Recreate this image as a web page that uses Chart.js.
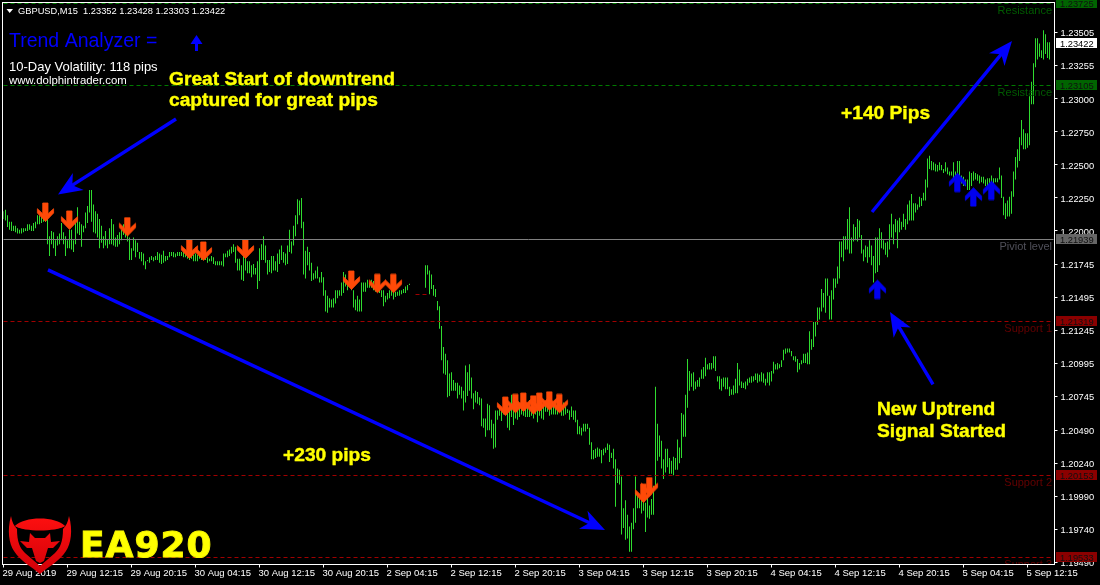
<!DOCTYPE html>
<html>
<head>
<meta charset="utf-8">
<title>GBPUSD,M15</title>
<style>
  html, body { margin: 0; padding: 0; background: #000; }
  canvas { display: block; }
</style>
<script src="https://cdn.jsdelivr.net/npm/chart.js@4"></script>
</head>
<body>
<canvas id="priceChart" width="1100" height="585"></canvas>
<script>
const highs = [
  1.2215,1.2216,1.2212,1.2207,1.2207,1.2204,1.2204,1.2202,1.2201,1.2202,
  1.2202,1.2202,1.2205,1.2205,1.2204,1.2206,1.2207,1.2212,1.2212,1.2211,
  1.2215,1.2215,1.2214,1.2196,1.2200,1.2199,1.2193,1.2196,1.2198,1.2206,
  1.2199,1.2196,1.2193,1.2201,1.2201,1.2193,1.2206,1.2218,1.2207,1.2205,
  1.2204,1.2214,1.2219,1.2231,1.2231,1.2220,1.2215,1.2213,1.2209,1.2204,
  1.2196,1.2200,1.2194,1.2202,1.2209,1.2205,1.2195,1.2197,1.2199,1.2201,
  1.2205,1.2205,1.2197,1.2195,1.2187,1.2195,1.2193,1.2191,1.2184,1.2184,
  1.2183,1.2177,1.2178,1.2180,1.2181,1.2180,1.2181,1.2184,1.2183,1.2182,
  1.2185,1.2181,1.2181,1.2184,1.2184,1.2184,1.2183,1.2184,1.2184,1.2184,
  1.2184,1.2183,1.2183,1.2182,1.2182,1.2182,1.2183,1.2182,1.2182,1.2181,
  1.2182,1.2182,1.2180,1.2179,1.2181,1.2180,1.2177,1.2177,1.2177,1.2177,
  1.2183,1.2183,1.2185,1.2186,1.2188,1.2190,1.2188,1.2179,1.2179,1.2174,
  1.2181,1.2181,1.2177,1.2177,1.2174,1.2175,1.2172,1.2177,1.2187,1.2190,
  1.2196,1.2189,1.2178,1.2178,1.2181,1.2181,1.2177,1.2183,1.2186,1.2189,
  1.2184,1.2183,1.2189,1.2201,1.2192,1.2204,1.2212,1.2224,1.2223,1.2225,
  1.2207,1.2185,1.2188,1.2184,1.2176,1.2168,1.2170,1.2173,1.2165,1.2169,
  1.2165,1.2155,1.2151,1.2149,1.2148,1.2149,1.2155,1.2155,1.2155,1.2161,
  1.2169,1.2167,1.2162,1.2164,1.2167,1.2155,1.2148,1.2151,1.2148,1.2161,
  1.2161,1.2161,1.2163,1.2161,1.2163,1.2162,1.2162,1.2161,1.2161,1.2155,
  1.2155,1.2151,1.2153,1.2155,1.2156,1.2159,1.2154,1.2154,1.2155,1.2155,
  1.2156,1.2158,1.2159,1.2160,null,null,null,null,null,null,
  null,1.2174,1.2174,1.2170,1.2167,1.2159,1.2156,1.2147,1.2143,1.2128,
  1.2112,1.2107,1.2102,1.2092,1.2093,1.2087,1.2085,1.2085,1.2083,1.2082,
  1.2079,1.2098,1.2093,1.2099,1.2089,1.2077,1.2079,1.2078,1.2074,1.2073,
  1.2058,1.2058,1.2069,1.2068,1.2057,1.2054,1.2064,1.2064,1.2067,1.2064,
  1.2073,1.2072,1.2066,1.2067,1.2076,1.2076,1.2072,1.2068,1.2067,1.2068,
  1.2068,1.2069,1.2069,1.2072,1.2072,1.2072,1.2069,1.2070,1.2072,1.2070,
  1.2068,1.2068,1.2071,1.2068,1.2072,1.2070,1.2070,1.2070,1.2068,1.2070,
  1.2070,1.2067,1.2065,1.2064,1.2067,1.2064,1.2064,1.2057,1.2052,1.2051,
  1.2054,1.2054,1.2054,1.2051,1.2040,1.2034,1.2035,1.2036,1.2035,1.2034,
  1.2035,1.2036,1.2039,1.2038,1.2032,1.2035,1.2027,1.2020,1.2019,1.2014,
  1.1990,1.1996,1.1985,1.1976,1.1979,1.1990,1.2014,1.2001,1.2000,1.1998,
  1.1997,1.1994,1.1998,1.1992,1.1997,1.2007,1.2082,1.2054,1.2045,1.2041,
  1.2027,1.2035,1.2035,1.2028,1.2026,1.2029,1.2028,1.2042,1.2036,1.2062,
  1.2061,1.2076,1.2103,1.2094,1.2092,1.2093,1.2086,1.2087,1.2089,1.2095,
  1.2097,1.2104,1.2099,1.2100,1.2100,1.2105,1.2105,1.2090,1.2090,1.2088,
  1.2089,1.2089,1.2089,1.2082,1.2080,1.2083,1.2088,1.2100,1.2095,1.2086,
  1.2085,1.2086,1.2088,1.2089,1.2090,1.2090,1.2092,1.2092,1.2091,1.2093,
  1.2092,1.2088,1.2093,1.2093,1.2094,1.2101,1.2099,1.2100,1.2099,1.2102,
  1.2110,1.2111,1.2111,1.2111,1.2109,1.2105,1.2105,1.2103,1.2100,1.2102,
  1.2107,1.2107,1.2108,1.2124,1.2118,1.2131,1.2131,1.2142,1.2142,1.2156,
  1.2153,1.2164,1.2164,1.2151,1.2155,1.2164,1.2164,1.2173,1.2192,1.2192,
  1.2196,1.2196,1.2209,1.2218,1.2195,1.2205,1.2203,1.2209,1.2208,1.2197,
  1.2186,1.2189,1.2188,1.2193,1.2189,1.2181,1.2195,1.2195,1.2202,1.2199,
  1.2193,1.2191,1.2192,1.2205,1.2213,1.2205,1.2209,1.2208,1.2210,1.2207,
  1.2213,1.2209,1.2220,1.2223,1.2228,1.2221,1.2221,1.2220,1.2226,1.2225,
  1.2229,1.2239,1.2255,1.2257,1.2253,1.2252,1.2251,1.2250,1.2252,1.2250,
  1.2247,1.2252,1.2248,1.2245,1.2245,1.2252,1.2245,1.2253,1.2253,1.2242,
  1.2241,1.2239,1.2239,1.2245,1.2244,1.2245,1.2244,1.2243,1.2242,1.2241,
  1.2241,1.2239,1.2240,1.2240,1.2242,1.2240,1.2240,1.2240,1.2248,1.2242,
  1.2226,1.2221,1.2223,1.2226,1.2230,1.2245,1.2256,1.2262,1.2271,1.2284,
  1.2277,1.2274,1.2274,1.2302,1.2313,1.2327,1.2346,1.2346,1.2342,1.2337,
  1.2352,1.2349,1.2343,1.2343
];

const lows = [
  1.2209,1.2208,1.2203,1.2201,1.2200,1.2200,1.2199,1.2198,1.2198,1.2198,
  1.2199,1.2200,1.2200,1.2201,1.2200,1.2200,1.2202,1.2205,1.2205,1.2206,
  1.2207,1.2207,1.2190,1.2181,1.2190,1.2187,1.2181,1.2189,1.2190,1.2193,
  1.2190,1.2181,1.2187,1.2187,1.2186,1.2184,1.2190,1.2198,1.2197,1.2188,
  1.2199,1.2202,1.2206,1.2214,1.2207,1.2199,1.2198,1.2195,1.2187,1.2191,
  1.2187,1.2189,1.2187,1.2190,1.2190,1.2189,1.2188,1.2188,1.2190,1.2193,
  1.2197,1.2195,1.2192,1.2178,1.2178,1.2185,1.2180,1.2184,1.2179,1.2177,
  1.2174,1.2171,1.2177,1.2176,1.2178,1.2177,1.2178,1.2178,1.2176,1.2175,
  1.2176,1.2177,1.2178,1.2180,1.2181,1.2180,1.2180,1.2181,1.2181,1.2181,
  1.2180,1.2180,1.2179,1.2178,1.2179,1.2177,1.2177,1.2177,1.2179,1.2178,
  1.2179,1.2178,1.2176,1.2177,1.2177,1.2175,1.2174,1.2174,1.2174,1.2174,
  1.2173,1.2180,1.2180,1.2181,1.2183,1.2184,1.2176,1.2170,1.2170,1.2163,
  1.2162,1.2170,1.2168,1.2168,1.2165,1.2167,1.2167,1.2156,1.2162,1.2178,
  1.2178,1.2176,1.2167,1.2169,1.2168,1.2170,1.2170,1.2169,1.2175,1.2178,
  1.2176,1.2174,1.2175,1.2184,1.2183,1.2189,1.2196,1.2205,1.2212,1.2202,
  1.2167,1.2164,1.2174,1.2170,1.2162,1.2163,1.2164,1.2164,1.2161,1.2161,
  1.2151,1.2139,1.2138,1.2142,1.2142,1.2142,1.2145,1.2149,1.2151,1.2151,
  1.2153,1.2158,1.2155,1.2158,1.2155,1.2142,1.2140,1.2139,1.2139,1.2139,
  1.2154,1.2154,1.2157,1.2157,1.2157,1.2155,1.2154,1.2154,1.2153,1.2150,
  1.2143,1.2146,1.2148,1.2149,1.2151,1.2148,1.2150,1.2151,1.2151,1.2152,
  1.2153,1.2153,1.2155,1.2159,null,null,null,null,null,null,
  null,1.2157,1.2167,1.2152,1.2156,1.2151,1.2150,1.2140,1.2126,1.2102,
  1.2092,1.2091,1.2074,1.2075,1.2079,1.2079,1.2079,1.2073,1.2076,1.2073,
  1.2064,1.2070,1.2075,1.2079,1.2073,1.2065,1.2070,1.2069,1.2068,1.2052,
  1.2051,1.2044,1.2049,1.2049,1.2043,1.2035,1.2036,1.2057,1.2060,1.2056,
  1.2061,1.2061,1.2051,1.2049,1.2059,1.2053,1.2058,1.2057,1.2059,1.2061,
  1.2060,1.2059,1.2059,1.2059,1.2060,1.2058,1.2061,1.2055,1.2060,1.2058,
  1.2057,1.2063,1.2063,1.2060,1.2061,1.2061,1.2061,1.2061,1.2063,1.2060,
  1.2060,1.2061,1.2062,1.2057,1.2059,1.2057,1.2055,1.2046,1.2046,1.2045,
  1.2048,1.2048,1.2050,1.2038,1.2027,1.2027,1.2028,1.2029,1.2029,1.2024,
  1.2030,1.2032,1.2034,1.2025,1.2028,1.2020,1.1991,1.2009,1.2008,1.1970,
  1.1975,1.1966,1.1967,1.1957,1.1957,1.1974,1.1979,1.1990,1.1990,1.1986,
  1.1988,1.1972,1.1983,1.1982,1.1985,1.1985,1.2007,1.2026,1.2029,1.2020,
  1.2012,1.2017,1.2021,1.2016,1.2016,1.2015,1.2019,1.2019,1.2024,1.2028,
  1.2044,1.2044,1.2066,1.2079,1.2082,1.2079,1.2080,1.2082,1.2082,1.2088,
  1.2088,1.2090,1.2095,1.2095,1.2095,1.2096,1.2094,1.2086,1.2080,1.2079,
  1.2082,1.2080,1.2080,1.2075,1.2076,1.2076,1.2077,1.2077,1.2083,1.2081,
  1.2081,1.2080,1.2083,1.2085,1.2085,1.2086,1.2087,1.2085,1.2086,1.2086,
  1.2085,1.2083,1.2085,1.2083,1.2086,1.2092,1.2095,1.2095,1.2096,1.2097,
  1.2102,1.2107,1.2108,1.2108,1.2105,1.2102,1.2101,1.2093,1.2095,1.2099,
  1.2100,1.2100,1.2099,1.2099,1.2110,1.2112,1.2120,1.2129,1.2133,1.2139,
  1.2142,1.2138,1.2151,1.2133,1.2133,1.2148,1.2157,1.2160,1.2164,1.2180,
  1.2177,1.2186,1.2186,1.2183,1.2183,1.2192,1.2193,1.2192,1.2195,1.2183,
  1.2177,1.2180,1.2176,1.2180,1.2174,1.2161,1.2168,1.2169,1.2174,1.2187,
  1.2186,1.2182,1.2180,1.2186,1.2195,1.2190,1.2199,1.2187,1.2199,1.2201,
  1.2203,1.2201,1.2205,1.2208,1.2208,1.2208,1.2214,1.2216,1.2218,1.2219,
  1.2223,1.2223,1.2233,1.2247,1.2246,1.2246,1.2245,1.2245,1.2246,1.2246,
  1.2244,1.2245,1.2243,1.2242,1.2242,1.2239,1.2236,1.2235,1.2233,1.2236,
  1.2234,1.2234,1.2231,1.2231,1.2234,1.2238,1.2239,1.2238,1.2236,1.2237,
  1.2236,1.2234,1.2234,1.2234,1.2237,1.2236,1.2237,1.2237,1.2239,1.2225,
  1.2212,1.2209,1.2211,1.2211,1.2213,1.2226,1.2239,1.2248,1.2253,1.2265,
  1.2262,1.2262,1.2263,1.2265,1.2296,1.2296,1.2324,1.2330,1.2332,1.2331,
  1.2330,1.2334,1.2331,1.2330
];

const timeLabels = [
  "29 Aug 2019", "29 Aug 12:15", "29 Aug 20:15", "30 Aug 04:15", "30 Aug 12:15", "30 Aug 20:15",
  "2 Sep 04:15", "2 Sep 12:15", "2 Sep 20:15", "3 Sep 04:15", "3 Sep 12:15", "3 Sep 20:15",
  "4 Sep 04:15", "4 Sep 12:15", "4 Sep 20:15", "5 Sep 04:15", "5 Sep 12:15"
];
const priceTicks = [
  1.23505, 1.23255, 1.23, 1.2275, 1.225, 1.2225, 1.22, 1.21745, 1.21495,
  1.21245, 1.20995, 1.20745, 1.2049, 1.2024, 1.1999, 1.1974, 1.1949
];

const sellBars = [21, 33, 62, 93, 100, 121, 174, 187, 195, 251, 256, 260, 265, 268, 273, 278, 320, 323];
const sellPrices = [1.2214, 1.2208, 1.2203, 1.2186, 1.21845, 1.2186, 1.21625, 1.216, 1.216, 1.2067, 1.2069, 1.207, 1.2068, 1.207, 1.2071, 1.2069, 1.2001, 1.2006];
const buyBars = [437, 477, 485, 494];
const buyPrices = [1.2156, 1.2237, 1.2226, 1.2231];

const levelNames = ["Resistance", "Resistance", "Piviot level", "Support 1", "Support 2", "Support 3"];
const levelPrices = [1.23725, 1.23105, 1.21939, 1.21319, 1.20153, 1.19533];
const levelColors = ["#007a00", "#007a00", "#808080", "#a00000", "#a00000", "#a00000"];

const trendFromBar = [86.25, 22.25, 434.25, 464.75];
const trendFromPrice = [1.22848, 1.21705, 1.22144, 1.20837];
const trendToBar = [27.25, 300.75, 504.25, 443.25];
const trendToPrice = [1.22277, 1.19735, 1.23439, 1.21386];

const BAR_COUNT = 526;

function makeArrowImage(color, pointsUp) {
  const shape = [[5.7,0],[11,0],[11,10.7],[16.6,5.7],[16.6,10],[8.5,18.5],[0.4,10],[0.4,5.7],[5.7,10.7]];
  const img = document.createElement("canvas");
  img.width = 19;
  img.height = 21;
  const c = img.getContext("2d");
  c.fillStyle = color;
  c.strokeStyle = color;
  c.lineWidth = 0.8;
  c.beginPath();
  shape.forEach((p, i) => {
    const x = p[0] + 1;
    const y = pointsUp ? 20 - p[1] : p[1] + 1;
    if (i === 0) c.moveTo(x, y);
    else c.lineTo(x, y);
  });
  c.closePath();
  c.fill();
  c.stroke();
  return img;
}

function sparse(bars, prices) {
  const out = new Array(BAR_COUNT).fill(null);
  bars.forEach((b, i) => { out[b] = prices[i]; });
  return out;
}

function drawText(ctx, text, x, y, font, color, align) {
  ctx.font = font;
  ctx.fillStyle = color;
  ctx.textAlign = align || "left";
  ctx.textBaseline = "alphabetic";
  ctx.fillText(text, x, y);
}

function drawNote(ctx, text, x, y) {
  drawText(ctx, text, x, y, "bold 19.2px 'Liberation Sans'", "#ffff00");
  ctx.strokeStyle = "#ffff00";
  ctx.lineWidth = 0.4;
  ctx.strokeText(text, x, y);
}

function drawTrendArrow(ctx, x0, y0, x1, y1) {
  const a = Math.atan2(y1 - y0, x1 - x0);
  const pt = (back, side) => [
    x1 - back * Math.cos(a) - side * Math.sin(a),
    y1 - back * Math.sin(a) + side * Math.cos(a)
  ];
  const neck = pt(13, 0);
  ctx.strokeStyle = "#0000ff";
  ctx.lineWidth = 3.4;
  ctx.lineCap = "butt";
  ctx.beginPath();
  ctx.moveTo(x0, y0);
  ctx.lineTo(neck[0], neck[1]);
  ctx.stroke();
  const head = [pt(0, 0), pt(24, 10), pt(17, 0), pt(24, -10)];
  ctx.fillStyle = "#0000ff";
  ctx.beginPath();
  head.forEach((p, i) => (i === 0 ? ctx.moveTo(p[0], p[1]) : ctx.lineTo(p[0], p[1])));
  ctx.closePath();
  ctx.fill();
}

function drawLogo(ctx) {
  ctx.save();
  const red = ctx.createLinearGradient(0, 515, 0, 575);
  red.addColorStop(0, "#ff1010");
  red.addColorStop(1, "#d00008");
  ctx.fillStyle = red;
  // shield with horn tips
  ctx.beginPath();
  ctx.moveTo(11, 516);
  ctx.bezierCurveTo(7, 530, 9, 544, 14, 551);
  ctx.bezierCurveTo(20, 561, 32, 567, 40, 574);
  ctx.bezierCurveTo(48, 567, 60, 561, 66, 551);
  ctx.bezierCurveTo(71, 544, 73, 530, 69, 516);
  ctx.bezierCurveTo(68, 522, 66, 526, 63, 529);
  ctx.bezierCurveTo(63, 542, 60, 548, 55, 553);
  ctx.lineTo(40, 566);
  ctx.lineTo(25, 553);
  ctx.bezierCurveTo(20, 548, 17, 542, 17, 529);
  ctx.bezierCurveTo(14, 526, 12, 522, 11, 516);
  ctx.fill();
  // crescent band
  ctx.beginPath();
  ctx.moveTo(15, 526);
  ctx.bezierCurveTo(24, 516, 56, 516, 65, 526);
  ctx.bezierCurveTo(58, 530, 48, 529, 40, 526);
  ctx.bezierCurveTo(32, 529, 22, 530, 15, 526);
  ctx.fill();
  ctx.beginPath();
  ctx.moveTo(15, 526);
  ctx.bezierCurveTo(24, 532, 56, 532, 65, 526);
  ctx.bezierCurveTo(56, 522, 24, 522, 15, 526);
  ctx.fill();
  // bull head
  ctx.beginPath();
  ctx.moveTo(20, 541);
  ctx.lineTo(29, 542);
  ctx.lineTo(30, 533);
  ctx.lineTo(35, 538);
  ctx.lineTo(45, 538);
  ctx.lineTo(50, 533);
  ctx.lineTo(51, 542);
  ctx.lineTo(60, 541);
  ctx.lineTo(53, 548);
  ctx.lineTo(48, 548);
  ctx.lineTo(44, 561);
  ctx.lineTo(40, 563);
  ctx.lineTo(36, 561);
  ctx.lineTo(32, 548);
  ctx.lineTo(27, 548);
  ctx.closePath();
  ctx.fill();
  // EA920 wordmark
  ctx.font = "bold 36px 'DejaVu Sans'";
  ctx.letterSpacing = "1px";
  ctx.lineWidth = 1;
  ctx.strokeStyle = "#f6f600";
  ctx.fillStyle = "#ffff00";
  ctx.textAlign = "left";
  ctx.textBaseline = "alphabetic";
  ctx.fillText("EA920", 80, 557);
  ctx.strokeText("EA920", 80, 557);
  ctx.restore();
}

const overlayPlugin = {
  id: "overlay",
  afterDatasetsDraw(chart) {
    const ctx = chart.ctx;
    const xs = chart.scales.x;
    const ys = chart.scales.y;
    const area = chart.chartArea;
    ctx.save();

    // pivot, support and resistance lines
    levelPrices.forEach((p, i) => {
      const y = Math.round(ys.getPixelForValue(p)) + 0.5;
      ctx.strokeStyle = levelColors[i];
      ctx.lineWidth = 1;
      ctx.setLineDash(levelNames[i].startsWith("Piviot") ? [] : [4, 3]);
      ctx.beginPath();
      ctx.moveTo(area.left, y);
      ctx.lineTo(area.right, y);
      ctx.stroke();
    });
    ctx.strokeStyle = "#a00000";
    ctx.setLineDash([4, 3]);
    ctx.beginPath();
    const dashY = Math.round(ys.getPixelForValue(1.2152)) + 0.5;
    ctx.moveTo(xs.getPixelForValue(206), dashY);
    ctx.lineTo(xs.getPixelForValue(212), dashY);
    ctx.stroke();
    ctx.setLineDash([]);

    // level names inside the plot
    ctx.save();
    ctx.beginPath();
    ctx.rect(area.left, area.top, area.right - area.left, area.bottom - area.top);
    ctx.clip();
    const nameColors = ["#005a00", "#005a00", "#50505a", "#640000", "#640000", "#640000"];
    levelNames.forEach((name, i) => {
      const y = ys.getPixelForValue(levelPrices[i]) + 11;
      drawText(ctx, name, 1052, y, "11px 'Liberation Sans'", nameColors[i], "right");
    });
    ctx.restore();

    trendFromBar.forEach((b, i) => {
      drawTrendArrow(
        ctx,
        xs.getPixelForValue(b),
        ys.getPixelForValue(trendFromPrice[i]),
        xs.getPixelForValue(trendToBar[i]),
        ys.getPixelForValue(trendToPrice[i])
      );
    });

    // frame
    ctx.strokeStyle = "#fff";
    ctx.lineWidth = 1;
    ctx.strokeRect(2.5, 2.5, 1052, 562);

    // price labels on the axis
    const boxColors = ["#006400", "#006400", "#666666", "#8b0000", "#8b0000", "#8b0000"];
    levelPrices.forEach((p, i) => {
      const y = Math.round(ys.getPixelForValue(p));
      ctx.fillStyle = boxColors[i];
      ctx.fillRect(1056, y - 5, 41, 10);
      drawText(ctx, p.toFixed(5), 1060, y + 3.5, "9.3px 'Liberation Sans'", "#101010");
    });
    const lastY = Math.round(ys.getPixelForValue(1.23422));
    ctx.fillStyle = "#fff";
    ctx.fillRect(1056, lastY - 5, 41, 10);
    drawText(ctx, "1.23422", 1060, lastY + 3.5, "9.3px 'Liberation Sans'", "#000");

    // chart header
    ctx.fillStyle = "#fff";
    ctx.beginPath();
    ctx.moveTo(6.5, 9);
    ctx.lineTo(13, 9);
    ctx.lineTo(9.7, 13);
    ctx.closePath();
    ctx.fill();
    drawText(ctx, "GBPUSD,M15  1.23352 1.23428 1.23303 1.23422", 18, 14, "9.3px 'Liberation Sans'", "#fff");
    drawText(ctx, "Trend Analyzer =", 9, 47, "19.5px 'Liberation Sans'", "#0000ff");
    drawText(ctx, "10-Day Volatility: 118 pips", 9, 71, "13px 'Liberation Sans'", "#fff");
    drawText(ctx, "www.dolphintrader.com", 9, 84, "11.4px 'Liberation Sans'", "#fff");

    // small arrow next to the trend text
    ctx.fillStyle = "#0000ff";
    ctx.beginPath();
    ctx.moveTo(196.5, 35);
    ctx.lineTo(202.5, 44);
    ctx.lineTo(198, 44);
    ctx.lineTo(198, 51);
    ctx.lineTo(195, 51);
    ctx.lineTo(195, 44);
    ctx.lineTo(190.5, 44);
    ctx.closePath();
    ctx.fill();

    // yellow notes
    drawNote(ctx, "Great Start of downtrend", 169, 85);
    drawNote(ctx, "captured for great pips", 169, 106);
    drawNote(ctx, "+140 Pips", 841, 119);
    drawNote(ctx, "+230 pips", 283, 461);
    drawNote(ctx, "New Uptrend", 877, 415);
    drawNote(ctx, "Signal Started", 877, 437);

    drawLogo(ctx);
    ctx.restore();
  }
};

function initChart() {
  const labels = [];
  const ranges = [];
  for (let i = 0; i < BAR_COUNT; i++) {
    labels.push(String(i));
    ranges.push(highs[i] == null ? null : [lows[i], highs[i]]);
  }

  new Chart(document.getElementById("priceChart").getContext("2d"), {
    type: "bar",
    data: {
      labels: labels,
      datasets: [
        {
          label: "GBPUSD",
          data: ranges,
          backgroundColor: "#2fdc2f",
          barThickness: 1,
          inflateAmount: 0,
          order: 3,
        },
        {
          type: "line",
          label: "sell",
          data: sparse(sellBars, sellPrices),
          showLine: false,
          pointStyle: makeArrowImage("#ff4a08", false),
          pointRadius: 9,
          order: 1,
        },
        {
          type: "line",
          label: "buy",
          data: sparse(buyBars, buyPrices),
          showLine: false,
          pointStyle: makeArrowImage("#0000f0", true),
          pointRadius: 9,
          order: 1,
        },
      ],
    },
    options: {
      responsive: false,
      animation: false,
      layout: { autoPadding: false, padding: { left: 3.5, top: 2.5, right: 0, bottom: 0 } },
      plugins: { legend: { display: false }, tooltip: { enabled: false } },
      scales: {
        x: {
          offset: false,
          grid: { offset: false, drawOnChartArea: false, color: "#fff", tickLength: 3 },
          border: { display: false },
          afterFit: (axis) => {
            axis.height = 20.5;
            axis.paddingLeft = 0;
            axis.paddingRight = 0;
          },
          afterBuildTicks: (axis) => {
            axis.ticks = timeLabels.map((t, k) => ({ value: k * 32 }));
          },
          ticks: {
            color: "#fff",
            font: { family: "Liberation Sans", size: 9.5 },
            autoSkip: false,
            maxRotation: 0,
            minRotation: 0,
            align: "start",
            padding: 0,
            labelOffset: -1,
            callback: (value, index) => timeLabels[index],
          },
        },
        y: {
          position: "right",
          min: 1.19473,
          max: 1.23731,
          grid: { drawOnChartArea: false, color: "#fff", tickLength: 4 },
          border: { display: false },
          afterFit: (axis) => {
            axis.width = 46.5;
            axis.paddingTop = 0;
            axis.paddingBottom = 0;
          },
          afterBuildTicks: (axis) => {
            axis.ticks = priceTicks.map((v) => ({ value: v }));
          },
          ticks: {
            color: "#fff",
            font: { family: "Liberation Sans", size: 9.3 },
            autoSkip: false,
            padding: 3,
            labelOffset: 1,
            callback: (value) => value.toFixed(5),
          },
        },
      },
    },
    plugins: [overlayPlugin],
  });
}

window.onload = initChart;
</script>
</body>
</html>
